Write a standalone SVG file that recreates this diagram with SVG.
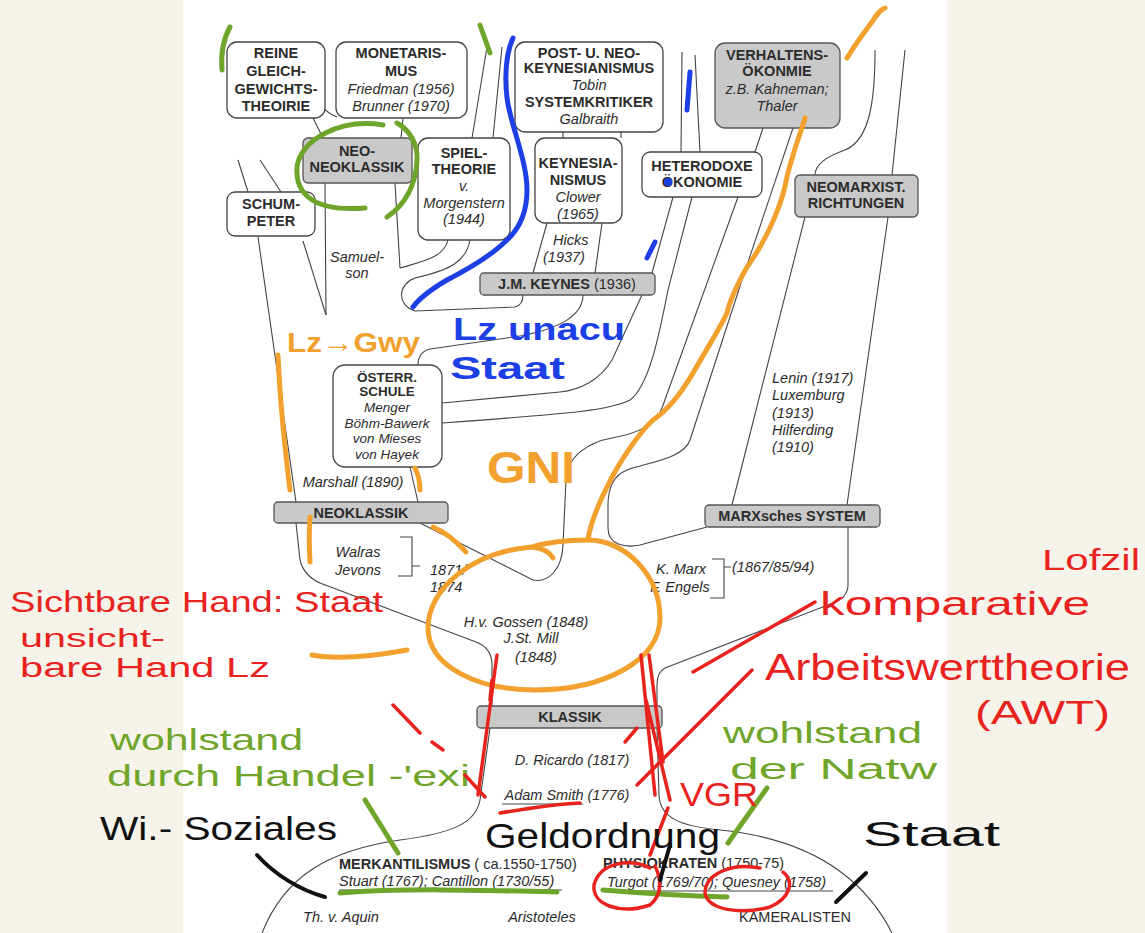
<svg xmlns="http://www.w3.org/2000/svg" width="1145" height="933" viewBox="0 0 1145 933">
<defs>
<style>
.bg{fill:#f6f4ea}
.wb{fill:#fff;stroke:#444;stroke-width:1.3}
.gb{fill:#c9c9c9;stroke:#555;stroke-width:1.3}
.ln{fill:none;stroke:#444;stroke-width:1.1}
.t{font-family:"Liberation Sans",Arial,sans-serif;font-size:14.5px;fill:#2c2c2c;text-anchor:middle}
.b{font-weight:bold}
.i{font-style:italic}
.l{text-anchor:start}
.hw{font-family:"Liberation Sans",Arial,sans-serif}
.or{fill:none;stroke:#f2a12e;stroke-width:5;stroke-linecap:round;stroke-linejoin:round}
.bl{fill:none;stroke:#1d3fe6;stroke-width:5;stroke-linecap:round;stroke-linejoin:round}
.gr{fill:none;stroke:#6ea52a;stroke-width:5;stroke-linecap:round;stroke-linejoin:round}
.rd{fill:none;stroke:#e8231e;stroke-width:3.5;stroke-linecap:round;stroke-linejoin:round}
.bk{fill:none;stroke:#111;stroke-width:4;stroke-linecap:round;stroke-linejoin:round}
</style>
</defs>
<rect x="0" y="0" width="1145" height="933" fill="#fff"/>
<rect class="bg" x="0" y="0" width="183" height="933"/>
<rect class="bg" x="947" y="0" width="198" height="933"/>

<g id="connectors">
<path class="ln" d="M258,237 L296,502"/>
<path class="ln" d="M303,241 L326,315"/>
<path class="ln" d="M325,183 L326,315"/>
<path class="ln" d="M238,160 L248,192 M260,160 L281,192"/>
<path class="ln" d="M313,118 L323,138"/>
<path class="ln" d="M318,100 Q324,112 337,117"/>
<path class="ln" d="M403,118 L401,138"/>
<path class="ln" d="M395,183 L400,268"/>
<path class="ln" d="M448,240 C444,258 420,262 400,268"/>
<path class="ln" d="M470,240 C466,262 450,270 415,278 C398,284 396,305 415,311 L515,307 Q523,305 523,295"/>
<path class="ln" d="M487,47 L472,138 M502,47 L493,138"/>
<path class="ln" d="M563,132 L563,138 M621,132 L621,138"/>
<path class="ln" d="M630,106 L630,117"/>
<path class="ln" d="M547,223 L533,273 M602,223 L595,273"/>
<path class="ln" d="M682,52 L681,152 M695,55 L700,152"/>
<path class="ln" d="M763,128 L755,152"/>
<path class="ln" d="M793,128 L742,280 L690,440 C684,458 650,462 627,470 C612,476 608,490 608,505 L608,528 C608,545 625,548 640,545 L707,527"/>
<path class="ln" d="M738,197 L662,408 C656,424 640,433 612,438 C590,442 567,455 566,480 L563,545 C562,570 548,583 533,580 L420,523"/>
<path class="ln" d="M642,295 L612,360 C600,380 580,390 560,392 L442,403"/>
<path class="ln" d="M673,197 L652,273"/>
<path class="ln" d="M692,197 L668,290 C660,330 650,385 630,400 C610,410 580,413 442,423"/>
<path class="ln" d="M583,295 C583,315 560,330 513,337 L430,349 Q418,352 418,365"/>
<path class="ln" d="M410,467 L418,502"/>
<path class="ln" d="M875,50 C875,100 870,140 845,150 C825,157 815,165 815,175 M905,50 L892,175 M805,217 L732,505 M888,217 L847,505"/>
<path class="ln" d="M848,527 L848,586 Q847,598 833,603 L665,668 Q657,672 657,685 L657,706"/>
<path class="ln" d="M657,728 L659,795 C660,818 680,826 720,830 C800,838 860,870 892,933"/>
<path class="ln" d="M296,523 L300,560 Q304,576 320,583 L476,642 Q492,648 492,665 L492,706"/>
<path class="ln" d="M490,728 L480,800 C476,822 455,833 400,840 C330,850 285,875 262,933"/>
<path class="ln" d="M400,537 L412,537 L412,576 L398,576 M412,566 L420,566"/>
<path class="ln" d="M712,559 L724,559 L724,598 L710,598 M724,567 L731,567"/>
<path class="ln" d="M502,804 L583,804 M339,890 L562,890 M607,891 L833,891"/>
</g>

<g id="n-reine"><rect class="wb" x="227" y="42" width="98" height="76" rx="10"/>
<text class="t b" x="276" y="58">REINE</text><text class="t b" x="276" y="76">GLEICH-</text><text class="t b" x="276" y="94">GEWICHTS-</text><text class="t b" x="276" y="111">THEOIRIE</text></g>
<g id="n-monetarismus"><rect class="wb" x="336" y="42" width="131" height="76" rx="10"/>
<text class="t b" x="401" y="58">MONETARIS-</text><text class="t b" x="401" y="76">MUS</text><text class="t i" x="401" y="94">Friedman (1956)</text><text class="t i" x="401" y="111">Brunner (1970)</text></g>
<g id="n-neoneoklassik"><rect class="gb" x="303" y="138" width="109" height="45" rx="5"/>
<text class="t b" x="357" y="156">NEO-</text><text class="t b" x="357" y="172">NEOKLASSIK</text></g>
<g id="n-spieltheorie"><rect class="wb" x="418" y="138" width="92" height="102" rx="10"/>
<text class="t b" x="464" y="158">SPIEL-</text><text class="t b" x="464" y="174">THEORIE</text><text class="t i" x="464" y="191">v.</text><text class="t i" x="464" y="208">Morgenstern</text><text class="t i" x="464" y="224">(1944)</text></g>
<g id="n-schumpeter"><rect class="wb" x="227" y="192" width="88" height="44" rx="8"/>
<text class="t b" x="271" y="209">SCHUM-</text><text class="t b" x="271" y="226">PETER</text></g>
<g id="n-postkeynes"><rect class="wb" x="515" y="42" width="148" height="90" rx="10"/>
<text class="t b" x="589" y="58">POST- U. NEO-</text><text class="t b" x="589" y="73">KEYNESIANISMUS</text><text class="t i" x="589" y="90">Tobin</text><text class="t b" x="589" y="107">SYSTEMKRITIKER</text><text class="t i" x="589" y="124">Galbraith</text></g>
<g id="n-keynesianismus"><rect class="wb" x="535" y="138" width="87" height="85" rx="10"/>
<text class="t b" x="578" y="168">KEYNESIA-</text><text class="t b" x="578" y="185">NISMUS</text><text class="t i" x="578" y="202">Clower</text><text class="t i" x="578" y="219">(1965)</text></g>
<g id="n-heterodoxe"><rect class="wb" x="642" y="152" width="120" height="45" rx="8"/>
<text class="t b" x="702" y="171">HETERODOXE</text><text class="t b" x="702" y="187">ÖKONOMIE</text></g>
<g id="n-verhaltens"><rect class="gb" x="715" y="43" width="125" height="85" rx="10"/>
<text class="t b" x="777" y="60">VERHALTENS-</text><text class="t b" x="777" y="76">ÖKONMIE</text><text class="t i" x="777" y="94">z.B. Kahneman;</text><text class="t i" x="777" y="111">Thaler</text></g>
<g id="n-neomarxist"><rect class="gb" x="795" y="175" width="123" height="42" rx="5"/>
<text class="t b" x="856" y="192">NEOMARXIST.</text><text class="t b" x="856" y="208">RICHTUNGEN</text></g>
<g id="n-keynes"><rect class="gb" x="480" y="273" width="175" height="22" rx="4"/>
<text class="t" x="567" y="289"><tspan class="b">J.M. KEYNES</tspan> (1936)</text></g>
<g id="n-oesterr"><rect class="wb" x="333" y="365" width="109" height="102" rx="12"/>
<text class="t b" x="387" y="382" style="font-size:13.5px">ÖSTERR.</text><text class="t b" x="387" y="396" style="font-size:13.5px">SCHULE</text>
<text class="t i" x="387" y="412" style="font-size:13.5px">Menger</text><text class="t i" x="387" y="428" style="font-size:13.5px">Böhm-Bawerk</text><text class="t i" x="387" y="443" style="font-size:13.5px">von Mieses</text><text class="t i" x="387" y="459" style="font-size:13.5px">von Hayek</text></g>
<g id="n-neoklassik"><rect class="gb" x="274" y="502" width="174" height="21" rx="4"/>
<text class="t b" x="361" y="518">NEOKLASSIK</text></g>
<g id="n-marx"><rect class="gb" x="705" y="505" width="175" height="22" rx="4"/>
<text class="t b" x="792" y="521">MARXsches SYSTEM</text></g>
<g id="n-klassik"><rect class="gb" x="477" y="706" width="185" height="22" rx="4"/>
<text class="t b" x="570" y="722">KLASSIK</text></g>

<g id="labels">
<text class="t i" x="357" y="262">Samuel-</text><text class="t i" x="357" y="278">son</text>
<text class="t i l" x="553" y="245">Hicks</text><text class="t i l" x="543" y="262">(1937)</text>
<text class="t i" x="353" y="487">Marshall (1890)</text>
<text class="t i" x="358" y="557">Walras</text><text class="t i" x="358" y="575">Jevons</text>
<text class="t i l" x="430" y="575">1871/</text><text class="t i l" x="430" y="592">1874</text>
<text class="t i" x="526" y="627">H.v. Gossen (1848)</text><text class="t i" x="531" y="643">J.St. Mill</text><text class="t i" x="536" y="662">(1848)</text>
<text class="t i" x="681" y="574">K. Marx</text><text class="t i" x="680" y="592">F. Engels</text>
<text class="t i l" x="732" y="572">(1867/85/94)</text>
<text class="t i l" x="772" y="383">Lenin (1917)</text><text class="t i l" x="772" y="400">Luxemburg</text><text class="t i l" x="772" y="418">(1913)</text><text class="t i l" x="772" y="435">Hilferding</text><text class="t i l" x="772" y="452">(1910)</text>
<text class="t i" x="572" y="765">D. Ricardo (1817)</text>
<text class="t i" x="567" y="800">Adam Smith (1776)</text>
<text class="t l" x="339" y="869"><tspan class="b">MERKANTILISMUS</tspan> ( ca.1550-1750)</text>
<text class="t i l" x="339" y="886">Stuart (1767); Cantillon (1730/55)</text>
<text class="t b l" x="603" y="868">PHYSIOKRATEN <tspan style="font-weight:normal">(1750-75)</tspan></text>
<text class="t i l" x="607" y="887">Turgot (1769/70); Quesney (1758)</text>
<text class="t i" x="341" y="922">Th. v. Aquin</text>
<text class="t i" x="542" y="922">Aristoteles</text>
<text class="t" x="795" y="922">KAMERALISTEN</text>
</g>

<g id="annotations">
<path class="or" d="M847,58 C855,45 862,35 872,22 C877,14 880,10 885,8"/>
<path class="or" d="M805,118 C800,135 792,155 787,177 C783,200 770,235 747,267 C738,283 730,300 727,313 C720,328 712,340 693,373 C683,390 668,410 653,420 C640,432 620,460 607,487 C598,505 590,525 588,540"/>
<path class="or" d="M553,558 Q548,549 532,547 C470,552 428,590 428,628 C428,665 475,690 535,690 C605,690 660,660 660,618 C660,575 625,540 588,540 C565,540 548,542 532,547"/>
<path class="or" d="M278,355 C280,400 285,450 290,490"/>
<path class="or" d="M415,468 Q420,478 420,490"/>
<path class="or" d="M310,517 C309,530 309,545 310,562"/>
<path class="or" d="M433,527 C445,532 455,540 466,552"/>
<path class="or" d="M312,655 C340,660 380,655 407,650"/>
<text class="hw" x="287" y="352" font-size="28" font-weight="bold" fill="#f2a12e" textLength="133" lengthAdjust="spacingAndGlyphs">Lz→Gwy</text>
<text class="hw" x="487" y="483" font-size="44" font-weight="bold" fill="#f2a12e" textLength="88" lengthAdjust="spacingAndGlyphs">GNI</text>

<path class="bl" d="M513,38 C503,60 505,95 510,113 C515,135 527,165 527,190 C527,210 520,228 507,240 C495,252 480,263 447,280 C430,290 418,300 413,307"/>
<path class="bl" d="M690,72 L687,110"/>
<path class="bl" d="M655,242 L647,258"/>
<circle cx="668" cy="182" r="4" fill="#1d3fe6"/>
<text class="hw" x="453" y="340" font-size="31" font-weight="bold" fill="#1d3fe6" textLength="172" lengthAdjust="spacingAndGlyphs">Lz unacu</text>
<text class="hw" x="450" y="379" font-size="31" font-weight="bold" fill="#1d3fe6" textLength="115" lengthAdjust="spacingAndGlyphs">Staat</text>

<path class="gr" d="M230,27 Q220,45 222,70"/>
<path class="gr" d="M480,25 L490,53"/>
<path class="gr" d="M383,125 C340,118 300,140 297,167 C295,195 315,212 365,208"/>
<path class="gr" d="M397,123 C410,130 418,145 417,160 C416,185 405,205 387,217"/>
<path class="gr" d="M365,800 L398,853"/>
<path class="gr" d="M340,893 C400,888 480,890 557,892"/>
<path class="gr" d="M603,890 C640,893 690,896 727,897"/>
<path class="gr" d="M767,788 L728,843"/>
<text class="hw" x="110" y="750" font-size="30" fill="#6ea52a" textLength="193" lengthAdjust="spacingAndGlyphs">wohlstand</text>
<text class="hw" x="107" y="786" font-size="30" fill="#6ea52a" textLength="363" lengthAdjust="spacingAndGlyphs">durch Handel -'exi</text>
<text class="hw" x="723" y="743" font-size="29" fill="#6ea52a" textLength="199" lengthAdjust="spacingAndGlyphs">wohlstand</text>
<text class="hw" x="730" y="779" font-size="29" fill="#6ea52a" textLength="207" lengthAdjust="spacingAndGlyphs">der Natw</text>

<path class="rd" d="M815,602 L693,672"/>
<path class="rd" d="M752,670 L637,785"/>
<path class="rd" d="M641,655 L655,795 M649,655 L663,762 M646,700 L670,800"/>
<path class="rd" d="M668,808 L650,855"/>
<path class="rd" d="M497,655 L478,795 M492,680 L490,700"/>
<path class="rd" d="M393,705 L420,733 M432,742 L443,750 M465,775 L485,797"/>
<path class="rd" d="M500,813 C530,808 560,804 580,803"/>
<path class="rd" d="M625,742 L637,728"/>
<path class="rd" d="M650,868 C630,858 600,862 594,885 C592,905 620,915 650,905 C662,895 662,880 655,866"/>
<path class="rd" d="M760,868 C730,862 705,875 705,893 C708,910 740,915 770,907 C790,898 795,882 783,872"/>
<text class="hw" x="10" y="612" font-size="29" fill="#e8231e" textLength="373" lengthAdjust="spacingAndGlyphs">Sichtbare Hand: Staat</text>
<text class="hw" x="20" y="647" font-size="25" fill="#e8231e" textLength="145" lengthAdjust="spacingAndGlyphs">unsicht-</text>
<text class="hw" x="20" y="677" font-size="27" fill="#e8231e" textLength="250" lengthAdjust="spacingAndGlyphs">bare Hand Lz</text>
<text class="hw" x="1042" y="570" font-size="30" fill="#e8231e" textLength="98" lengthAdjust="spacingAndGlyphs">Lofzil</text>
<text class="hw" x="820" y="615" font-size="34" fill="#e8231e" textLength="270" lengthAdjust="spacingAndGlyphs">komparative</text>
<text class="hw" x="765" y="680" font-size="36" fill="#e8231e" textLength="365" lengthAdjust="spacingAndGlyphs">Arbeitswerttheorie</text>
<text class="hw" x="975" y="724" font-size="34" fill="#e8231e" textLength="135" lengthAdjust="spacingAndGlyphs">(AWT)</text>
<text class="hw" x="680" y="806" font-size="33" fill="#e8231e" textLength="78" lengthAdjust="spacingAndGlyphs">VGR</text>

<path class="bk" d="M257,855 C275,875 300,890 325,897"/>
<path class="bk" d="M670,845 L660,880"/>
<path class="bk" d="M866,873 L836,902"/>
<text class="hw" x="100" y="840" font-size="33" fill="#111" textLength="237" lengthAdjust="spacingAndGlyphs">Wi.- Soziales</text>
<text class="hw" x="485" y="848" font-size="35" fill="#111" textLength="235" lengthAdjust="spacingAndGlyphs">Geldordnung</text>
<text class="hw" x="863" y="846" font-size="35" fill="#111" textLength="137" lengthAdjust="spacingAndGlyphs">Staat</text>
</g>
</svg>
